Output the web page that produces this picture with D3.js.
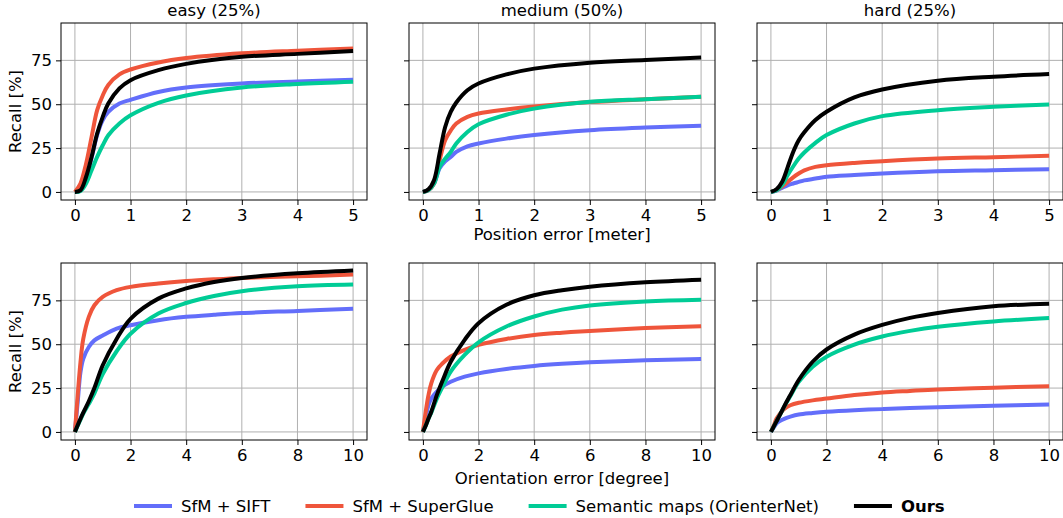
<!DOCTYPE html>
<html><head><meta charset="utf-8">
<script src="https://cdn.jsdelivr.net/npm/d3@7"></script>
<style>body{margin:0;background:#fff}svg{display:block}text{font-family:"DejaVu Sans",sans-serif}</style>
</head><body><svg id="c" width="1063" height="518"></svg>
<script>
const series = ["SfM + SIFT", "SfM + SuperGlue", "Semantic maps (OrienterNet)", "Ours"];
const colors = ["#636EFA", "#EF553B", "#00CC96", "#000000"];
const subsets = ["easy (25%)", "medium (50%)", "hard (25%)"];
const posX = [0,0.1,0.2,0.3,0.4,0.5,0.6,0.8,1,1.5,2,3,4,5];
const oriX = [0,0.1,0.2,0.3,0.5,0.7,1,1.5,2,3,4,5,6,8,10];
const posTicks = [0,1,2,3,4,5];
const oriTicks = [0,2,4,6,8,10];
const yTicks = [0,25,50,75];

// Position recall [%] per subset: [SIFT, SuperGlue, OrienterNet, Ours]
const posEasy = [
  [0,1,8,19.5,32.5,41,45.6,50.4,52.5,57,59.5,61.8,63,64],
  [0,4.8,16,31.4,46.6,55,61,67,69.8,73.8,76.3,79,80.5,81.8],
  [0,0.5,4.8,12.4,20,26.6,32.3,39,43.7,50.8,55,59.5,61.5,62.8],
  [0,1,8.5,20,33.3,42.8,50.4,59,63.7,69.4,73,77,78.7,80.3]
];
const posMedium = [
  [0,1,4.8,13.5,17.5,20,22.8,26,27.6,30.4,32.5,35.2,36.7,37.7],
  [0,1,4.8,18,29.5,35,39,42.8,44.7,47,48.7,51.2,52.8,54.2],
  [0,1,4.8,14.3,19,22.8,27.6,34.2,38.6,44,47.5,51.4,52.9,54.2],
  [0,1.5,6.7,21.9,37,45.6,51,58,61.8,67,70.3,73.7,75.2,76.7]
];
const posHard = [
  [0,0.8,2.3,3.8,4.8,5.7,6.6,7.6,8.6,9.6,10.5,11.8,12.4,13],
  [0,1,3,5.7,8.3,10.5,12.3,14.3,15.2,16.5,17.5,19,19.8,20.6],
  [0,1,3.8,9.5,14.5,19,22.5,28,32.4,39,43.2,46.6,48.5,49.9],
  [0,1.5,5.7,14,22.8,29.5,34,41,45.7,53.9,58.4,63.4,65.7,67.2]
];
// Orientation recall [%]
const oriEasy = [
  [0,17,34,41.7,48.4,52.2,55,58.9,60.8,63.7,65.6,66.8,67.8,69,70.2],
  [0,20.8,39.8,53,65.6,72.2,77,80.8,82.7,84.6,86,87,87.8,88.7,89.7],
  [0,3.5,7,10.5,16,22,33,46,56,67.5,73.5,77.5,80.2,83,84],
  [0,3.8,7.5,11,17.5,25,38,53,64.5,76,81.8,85.5,87.8,90.4,92]
];
const oriMedium = [
  [0,8,15.3,19,23,25.8,28.6,31.5,33.4,35.9,37.6,38.8,39.7,40.8,41.6],
  [0,11.5,21,27.7,35.3,39,43,46.8,49.6,53,55.3,56.6,57.6,59.2,60.3],
  [0,3.5,7.5,11,19,25.5,34.4,43.9,51.1,60.1,65.8,69.7,72.1,74.4,75.4],
  [0,3.5,7.6,11.5,21,29,40,52.5,62,72.5,77.9,80.8,82.8,85.3,86.8]
];
const oriHard = [
  [0,2.5,4.8,6,7.6,8.7,9.9,10.8,11.5,12.4,13,13.6,14.1,14.9,15.6],
  [0,3.5,7.6,9.8,13.4,15.2,16.6,18,19,21,22.5,23.4,24.2,25.2,26.1],
  [0,3,6,9,15,20.5,28.6,37.2,42.9,49.8,54.4,57.6,60,63,64.9],
  [0,3,6,9,15.3,21,29.6,40,47,55.5,61,65,67.8,71.6,73.1]
];

const svg = d3.select("#c");
const FS = 16.5;
const panelLeft = [61, 409, 757], panelW = 306;
const rows = [
  {top: 23, bottom: 200, xs: posX, ticks: posTicks, xdom: [-0.25, 5.25], data: [posEasy, posMedium, posHard], label: "Position error [meter]", labelY: 240},
  {top: 263, bottom: 440, xs: oriX, ticks: oriTicks, xdom: [-0.5, 10.5], data: [oriEasy, oriMedium, oriHard], label: "Orientation error [degree]", labelY: 484}
];

rows.forEach((row, ri) => {
  const y = d3.scaleLinear().domain([-4.6, 96.3]).range([row.bottom, row.top]);
  row.data.forEach((panel, pi) => {
    const x = d3.scaleLinear().domain(row.xdom).range([panelLeft[pi], panelLeft[pi] + panelW]);
    const g = svg.append("g");
    g.selectAll(".gx").data(row.ticks).join("line")
      .attr("x1", d => x(d)).attr("x2", d => x(d)).attr("y1", row.top).attr("y2", row.bottom)
      .attr("stroke", "#b0b0b0").attr("stroke-width", 1);
    g.selectAll(".gy").data(yTicks).join("line")
      .attr("y1", d => y(d)).attr("y2", d => y(d)).attr("x1", x.range()[0]).attr("x2", x.range()[1])
      .attr("stroke", "#b0b0b0").attr("stroke-width", 1);
    const line = d3.line().x((d, i) => x(row.xs[i])).y(d => y(d)).curve(d3.curveCatmullRom.alpha(0.5));
    panel.forEach((vals, si) => {
      g.append("path").attr("d", line(vals)).attr("fill", "none")
        .attr("stroke", colors[si]).attr("stroke-width", 4)
        .attr("stroke-linejoin", "round").attr("stroke-linecap", "butt");
    });
    g.append("rect").attr("x", x.range()[0]).attr("y", row.top).attr("width", panelW).attr("height", row.bottom - row.top)
      .attr("fill", "none").attr("stroke", "#000").attr("stroke-width", 1);
    const ax = g.append("g").attr("transform", `translate(0,${row.bottom})`)
      .call(d3.axisBottom(x).tickValues(row.ticks).tickFormat(d3.format("d")).tickSize(5).tickPadding(4));
    const ay = g.append("g").attr("transform", `translate(${x.range()[0]},0)`)
      .call(d3.axisLeft(y).tickValues(yTicks).tickSize(5).tickPadding(4).tickFormat(pi === 0 ? d3.format("d") : () => ""));
    [ax, ay].forEach(a => {
      a.select(".domain").remove();
      a.selectAll("text").attr("font-size", FS).attr("font-family", "DejaVu Sans").attr("fill", "#000");
      a.selectAll("line").attr("stroke", "#000");
    });
    if (ri === 0) {
      g.append("text").attr("x", x.range()[0] + panelW / 2).attr("y", 16).attr("text-anchor", "middle")
        .attr("font-size", FS).text(subsets[pi]);
    }
    if (pi === 0) {
      g.append("text").attr("transform", `translate(21,${(row.top + row.bottom) / 2}) rotate(-90)`)
        .attr("text-anchor", "middle").attr("font-size", FS).text("Recall [%]");
    }
    if (pi === 1) {
      g.append("text").attr("x", x.range()[0] + panelW / 2).attr("y", row.labelY).attr("text-anchor", "middle")
        .attr("font-size", FS).text(row.label);
    }
  });
});

const lg = svg.append("g");
let lx = 134;
series.forEach((s, i) => {
  lg.append("line").attr("x1", lx).attr("x2", lx + 38).attr("y1", 506).attr("y2", 506)
    .attr("stroke", colors[i]).attr("stroke-width", 4);
  const t = lg.append("text").attr("x", lx + 47).attr("y", 512).attr("font-size", FS)
    .attr("font-weight", i === 3 ? "bold" : "normal").text(s);
  lx = lx + 47 + t.node().getComputedTextLength() + 35;
});
</script></body></html>
